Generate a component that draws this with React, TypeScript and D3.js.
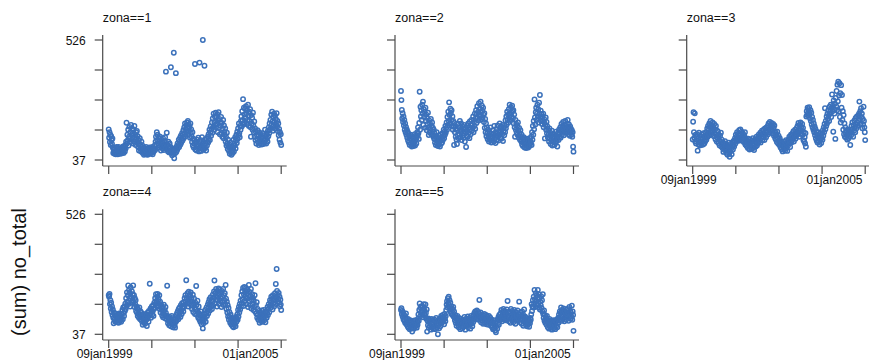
import React from "react";
import * as d3 from "d3";

// ---------- data (weekly, from 09jan1999, 417 weeks per zone) ----------
const zoneTitles = ["zona==1", "zona==2", "zona==3", "zona==4", "zona==5"];
const yLabelValues = [37, 526];
const xLabelTexts = ["09jan1999", "01jan2005"];
const yAxisTitle = "(sum) no_total";

const zona1 = [
  162, 128, 150, 110, 140, 98, 134, 118, 102, 125,
  88, 66, 80, 72, 62, 86, 70, 60, 78, 90,
  68, 84, 60, 76, 90, 64, 72, 82, 62, 74,
  86, 70, 64, 88, 76, 92, 66, 80, 90, 72,
  98, 84, 112, 189, 104, 140, 118, 160, 96, 132,
  172, 126, 150, 110, 180, 138, 120, 165, 146, 104,
  158, 128, 176, 112, 140, 98, 150, 126, 155, 108,
  134, 90, 118, 76, 104, 126, 84, 98, 72, 112,
  80, 96, 66, 74, 88, 58, 70, 84, 62, 78,
  90, 60, 72, 84, 58, 68, 80, 64, 88, 70,
  62, 78, 86, 66, 74, 90, 60, 82, 70, 76,
  84, 96, 78, 112, 132, 100, 150, 118, 140, 104,
  128, 96, 116, 88, 132, 104, 76, 120, 92, 110,
  84, 126, 100, 78, 114, 94, 130, 86, 397, 106,
  148, 80, 98, 72, 112, 84, 68, 104, 76, 90,
  415, 66, 80, 56, 72, 84, 60, 474, 44, 76,
  64, 82, 391, 70, 92, 78, 104, 86, 98, 120,
  90, 112, 128, 100, 136, 108, 124, 146, 116, 140,
  158, 126, 170, 142, 186, 134, 162, 178, 150, 190,
  168, 196, 140, 182, 154, 172, 128, 186, 148, 162,
  132, 110, 150, 96, 124, 88, 118, 104, 428, 80,
  112, 92, 76, 120, 100, 84, 128, 96, 72, 434,
  106, 84, 118, 74, 96, 130, 88, 526, 110, 80,
  98, 421, 120, 86, 104, 76, 124, 96, 112, 132,
  108, 142, 126, 160, 118, 150, 174, 136, 164, 190,
  148, 206, 172, 226, 160, 192, 214, 180, 230, 170,
  210, 186, 224, 150, 198, 232, 168, 204, 142, 190,
  176, 212, 146, 188, 132, 164, 200, 126, 178, 150,
  140, 166, 112, 130, 96, 148, 104, 82, 120, 92,
  74, 100, 62, 88, 108, 70, 58, 94, 78, 66,
  86, 120, 72, 104, 96, 130, 84, 116, 140, 106,
  152, 124, 166, 138, 186, 146, 130, 176, 160, 196,
  214, 174, 236, 200, 285, 182, 250, 222, 190, 246,
  208, 256, 228, 184, 240, 200, 262, 218, 176, 234,
  196, 244, 170, 132, 220, 186, 208, 160, 230, 178,
  150, 194, 132, 166, 118, 152, 104, 140, 124, 158,
  110, 136, 98, 150, 120, 104, 142, 116, 128, 100,
  130, 112, 146, 102, 124, 138, 108, 160, 118, 134,
  104, 142, 126, 112, 156, 134, 170, 146, 186, 160,
  200, 168, 222, 182, 234, 194, 156, 212, 176, 226,
  190, 218, 164, 204, 180, 228, 172, 196, 154, 186,
  138, 164, 120, 150, 108, 142, 98,
];

const zona2 = [
  318, 281, 241, 206, 228, 192, 214, 178, 200, 160,
  186, 150, 172, 140, 162, 128, 152, 116, 144, 108,
  132, 98, 124, 140, 104, 118, 92, 134, 100, 114,
  94, 126, 108, 142, 96, 118, 136, 104, 128, 150,
  138, 170, 146, 123, 188, 315, 160, 254, 214, 240,
  200, 262, 226, 275, 180, 244, 212, 234, 168, 250,
  196, 222, 158, 208, 184, 230, 170, 139, 198, 150,
  186, 164, 204, 142, 176, 190, 152, 168, 132, 160,
  124, 146, 108, 134, 98, 120, 150, 104, 128, 94,
  112, 136, 100, 124, 92, 140, 116, 104, 130, 108,
  146, 118, 134, 160, 126, 152, 140, 176, 148, 168,
  190, 160, 212, 178, 234, 196, 272, 220, 186, 246,
  228, 200, 240, 176, 214, 160, 196, 172, 98, 188,
  150, 176, 132, 164, 120, 102, 158, 138, 184, 126,
  170, 142, 196, 130, 160, 186, 118, 152, 174, 136,
  164, 128, 180, 144, 112, 168, 150, 90, 136, 176,
  154, 132, 186, 148, 170, 126, 194, 160, 142, 178,
  200, 156, 184, 168, 214, 150, 192, 176, 226, 164,
  206, 240, 188, 224, 256, 208, 234, 198, 268, 220,
  246, 214, 275, 230, 202, 258, 238, 210, 250, 222,
  192, 228, 168, 204, 150, 186, 134, 170, 146, 122,
  160, 130, 112, 150, 138, 118, 170, 126, 108, 144,
  132, 116, 158, 140, 112, 176, 124, 148, 106, 136,
  164, 120, 144, 178, 132, 116, 156, 140, 186, 128,
  150, 172, 124, 160, 142, 180, 114, 154, 168, 138,
  176, 150, 198, 166, 214, 182, 234, 200, 222, 190,
  244, 210, 262, 226, 200, 252, 232, 214, 258, 236,
  206, 240, 186, 222, 170, 132, 200, 160, 184, 148,
  176, 140, 190, 156, 128, 168, 146, 120, 158, 132,
  112, 140, 100, 126, 94, 118, 130, 104, 88, 122,
  98, 114, 86, 106, 124, 92, 108, 88, 118, 100,
  94, 126, 104, 112, 132, 98, 150, 120, 176, 140,
  196, 162, 284, 210, 182, 232, 250, 200, 226, 262,
  214, 244, 190, 270, 226, 302, 208, 238, 196, 224,
  184, 214, 196, 226, 170, 204, 188, 125, 180, 210,
  160, 192, 146, 174, 130, 158, 140, 112, 166, 124,
  148, 102, 136, 118, 156, 96, 128, 144, 110, 132,
  98, 140, 120, 106, 152, 114, 134, 92, 126, 148,
  118, 160, 132, 146, 170, 128, 156, 184, 140, 174,
  152, 192, 166, 138, 180, 158, 196, 148, 176, 162,
  186, 150, 200, 170, 142, 182, 160, 136, 174, 150,
  164, 140, 158, 132, 150, 91, 71,
];

const zona3 = [
  121, 193, 232, 150, 128, 227, 112, 140, 104, 132,
  118, 142, 75, 126, 100, 148, 112, 96, 136, 106,
  124, 98, 140, 110, 130, 100, 146, 116, 104, 134,
  112, 128, 150, 120, 142, 166, 132, 176, 146, 160,
  186, 138, 172, 196, 150, 180, 142, 164, 190, 154,
  172, 134, 184, 146, 160, 122, 176, 140, 112, 156,
  130, 152, 106, 140, 118, 96, 136, 112, 148, 92,
  120, 100, 86, 110, 70, 104, 92, 78, 114, 96,
  82, 66, 100, 88, 58, 94, 76, 108, 64, 50,
  90, 72, 102, 84, 60, 96, 110, 80, 98, 116,
  92, 112, 126, 104, 140, 118, 132, 150, 114, 128,
  144, 122, 158, 136, 116, 162, 140, 128, 152, 134,
  118, 146, 130, 110, 138, 122, 150, 100, 126, 112,
  94, 118, 104, 86, 124, 96, 110, 80, 102, 120,
  90, 108, 82, 116, 98, 126, 86, 104, 78, 112,
  100, 122, 92, 114, 132, 96, 118, 106, 128, 140,
  112, 134, 120, 148, 108, 140, 126, 156, 118, 146,
  132, 160, 144, 118, 166, 138, 152, 130, 170, 148,
  158, 176, 142, 186, 164, 150, 192, 170, 180, 156,
  188, 160, 176, 146, 184, 168, 136, 178, 154, 126,
  148, 120, 140, 110, 152, 128, 104, 136, 116, 98,
  126, 106, 88, 114, 96, 80, 108, 72, 100, 90,
  82, 112, 94, 76, 104, 118, 86, 98, 74, 110,
  96, 120, 104, 132, 112, 90, 126, 140, 108, 136,
  118, 146, 128, 154, 112, 140, 132, 160, 124, 148,
  136, 168, 150, 176, 142, 188, 158, 132, 180, 164,
  190, 146, 172, 156, 184, 140, 168, 118, 150, 112,
  130, 104, 146, 91, 214, 236, 220, 250, 228, 244,
  218, 252, 226, 206, 240, 196, 230, 182, 212, 170,
  200, 160, 186, 150, 174, 138, 164, 126, 152, 116,
  140, 108, 130, 150, 112, 124, 100, 144, 118, 134,
  106, 128, 146, 120, 158, 136, 170, 150, 184, 248,
  162, 196, 176, 214, 186, 226, 204, 240, 218, 196,
  254, 226, 240, 262, 212, 248, 304, 236, 258, 152,
  280, 244, 226, 266, 123, 290, 256, 318, 240, 344,
  276, 356, 234, 300, 350, 212, 309, 190, 342, 250,
  302, 200, 236, 160, 220, 142, 186, 132, 170, 150,
  128, 156, 138, 120, 162, 144, 126, 152, 134, 148,
  98, 160, 138, 176, 150, 190, 164, 132, 180, 156,
  198, 170, 150, 208, 184, 166, 214, 190, 176, 218,
  196, 226, 275, 204, 236, 184, 248, 212, 226, 166,
  204, 182, 254, 196, 170, 150, 118,
];

const zona4 = [
  196, 190, 201, 160, 176, 142, 166, 128, 150, 116,
  138, 104, 82, 126, 96, 114, 88, 120, 100, 92,
  110, 86, 118, 98, 84, 122, 104, 92, 114, 96,
  88, 120, 106, 136, 98, 146, 124, 112, 150, 132,
  162, 140, 184, 154, 208, 170, 196, 236, 160, 218,
  182, 204, 150, 228, 190, 166, 212, 176, 200, 236,
  170, 196, 148, 184, 160, 176, 132, 150, 126, 144,
  112, 138, 120, 104, 146, 116, 98, 130, 108, 124,
  90, 110, 76, 102, 120, 84, 96, 114, 80, 106,
  94, 118, 71, 100, 126, 108, 88, 132, 114, 243,
  120, 142, 104, 136, 150, 118, 130, 156, 112, 140,
  166, 144, 184, 160, 200, 172, 150, 190, 201, 164,
  180, 152, 196, 140, 170, 126, 160, 136, 150, 114,
  142, 106, 128, 158, 118, 136, 102, 148, 124, 110,
  98, 235, 112, 82, 104, 92, 74, 108, 86, 100,
  70, 94, 112, 78, 90, 66, 104, 84, 96, 74,
  64, 100, 88, 116, 94, 124, 106, 132, 98, 140,
  114, 146, 126, 108, 156, 134, 120, 164, 142, 150,
  130, 168, 148, 184, 158, 196, 170, 257, 186, 162,
  204, 176, 150, 211, 184, 164, 196, 172, 208, 154,
  186, 140, 170, 198, 128, 160, 182, 146, 120, 166,
  138, 234, 156, 116, 174, 128, 104, 150, 122, 96,
  114, 88, 130, 100, 78, 118, 92, 61, 108, 82,
  96, 120, 104, 136, 88, 124, 146, 112, 132, 158,
  122, 168, 144, 180, 134, 160, 188, 150, 176, 140,
  170, 198, 154, 186, 212, 256, 164, 204, 178, 222,
  190, 150, 214, 176, 200, 224, 160, 196, 218, 172,
  206, 184, 148, 214, 190, 168, 222, 156, 196, 176,
  204, 160, 238, 182, 140, 170, 126, 156, 110, 144,
  96, 128, 108, 84, 118, 96, 76, 104, 88, 70,
  92, 66, 84, 102, 78, 96, 70, 108, 88, 100,
  118, 96, 136, 110, 148, 126, 160, 138, 174, 150,
  196, 164, 212, 180, 226, 152, 200, 230, 172, 214,
  190, 226, 160, 204, 182, 218, 148, 196, 238, 172,
  210, 156, 190, 222, 142, 178, 200, 160, 186, 136,
  174, 148, 196, 130, 245, 156, 122, 168, 104, 140,
  118, 96, 132, 108, 84, 126, 100, 116, 90, 134,
  110, 88, 122, 102, 136, 94, 116, 128, 86, 112,
  130, 104, 124, 148, 116, 140, 160, 126, 152, 176,
  144, 168, 190, 156, 180, 138, 196, 164, 186, 150,
  176, 204, 160, 242, 188, 303, 214, 170, 196, 180,
  206, 166, 190, 150, 178, 158, 136,
];

const zona5 = [
  136, 143, 120, 132, 110, 126, 98, 118, 92, 112,
  84, 104, 122, 78, 96, 88, 70, 100, 64, 90,
  76, 58, 94, 70, 84, 62, 90, 48, 80, 66,
  92, 60, 78, 86, 68, 94, 72, 82, 64, 89,
  76, 100, 118, 92, 136, 163, 110, 146, 126, 152,
  130, 118, 150, 106, 140, 160, 120, 134, 112, 159,
  124, 100, 138, 48, 92, 74, 102, 64, 86, 96,
  70, 90, 56, 82, 100, 66, 78, 94, 60, 84,
  98, 72, 58, 88, 76, 104, 64, 90, 80, 37,
  74, 96, 62, 86, 102, 70, 94, 112, 82, 104,
  88, 116, 94, 108, 78, 120, 100, 90, 112, 136,
  158, 172, 146, 184, 164, 190, 150, 176, 140, 166,
  128, 152, 120, 142, 116, 136, 148, 110, 130, 104,
  94, 116, 84, 106, 72, 98, 112, 80, 92, 66,
  104, 78, 90, 58, 86, 100, 70, 94, 62, 82,
  96, 68, 88, 108, 74, 56, 92, 80, 102, 72,
  90, 110, 66, 84, 98, 76, 104, 60, 88, 112,
  80, 94, 70, 102, 86, 116, 96, 124, 104, 130,
  110, 122, 98, 134, 116, 104, 128, 96, 120, 177,
  112, 100, 126, 86, 108, 118, 92, 104, 80, 114,
  98, 120, 84, 106, 92, 116, 78, 102, 110, 88,
  100, 76, 112, 94, 82, 106, 90, 72, 98, 84,
  66, 86, 58, 78, 94, 62, 74, 52, 84, 45,
  70, 90, 60, 98, 82, 108, 76, 116, 94, 104,
  122, 96, 136, 110, 90, 128, 104, 140, 116, 98,
  132, 108, 124, 94, 118, 138, 100, 173, 112, 126,
  90, 130, 106, 120, 84, 140, 98, 116, 132, 104,
  124, 86, 110, 136, 96, 118, 80, 128, 104, 114,
  92, 134, 108, 120, 98, 170, 116, 86, 126, 102,
  112, 80, 130, 94, 120, 72, 106, 138, 88, 110,
  96, 76, 104, 84, 70, 92, 78, 100, 86, 68,
  90, 82, 104, 96, 118, 160, 132, 150, 176, 146,
  190, 162, 218, 180, 148, 204, 172, 196, 158, 186,
  218, 164, 200, 146, 182, 138, 170, 156, 192, 144,
  176, 130, 200, 120, 104, 134, 92, 116, 84, 108,
  96, 76, 112, 88, 66, 94, 82, 60, 100, 72,
  86, 64, 92, 78, 56, 88, 70, 94, 62, 80,
  74, 92, 58, 86, 70, 96, 80, 66, 98, 104,
  84, 118, 96, 130, 106, 124, 146, 92, 136, 112,
  128, 100, 142, 116, 90, 132, 108, 122, 96, 138,
  114, 104, 140, 126, 92, 118, 148, 110, 132, 100,
  124, 108, 154, 96, 130, 116, 51,
];

const zoneSeries = [zona1, zona2, zona3, zona4, zona5];

// ---------- layout ----------
const W = 869;
const H = 360;
const FONT = "'Liberation Sans', Arial, Helvetica, sans-serif";
const MARKER = "#3b71bb";
const AXIS = "#4a4a4a";
const colLeft = [102.7, 395, 686.7];
const rowTop = [40, 214.3];
const rowBottom = [160, 334.3];
const rowXAxis = [166, 340];

const DAY = 864e5;
const startDate = new Date(Date.UTC(1999, 0, 9));
const nWeeks = 416;
const endDate = new Date(startDate.getTime() + nWeeks * 7 * DAY);
const xTicks = d3.range(5).map((k) => new Date(startDate.getTime() + k * 104 * 7 * DAY));
const yTicks = d3.range(5).map((k) => 37 + (k * (526 - 37)) / 4);

function Panel({ idx }: { idx: number }) {
  const col = idx % 3;
  const row = Math.floor(idx / 3);
  const left = colLeft[col];
  const xAxisY = rowXAxis[row];
  const x = d3.scaleUtc().domain([startDate, endDate]).range([left + 6, left + 178.5]);
  const y = d3.scaleLinear().domain([37, 526]).range([rowBottom[row], rowTop[row]]);
  const data = zoneSeries[idx];
  const showX = idx >= 2;
  const showY = col === 0;
  const labelTicks = [
    { t: xTicks[0], text: xLabelTexts[0], dx: -4 },
    { t: xTicks[3], text: xLabelTexts[1], dx: 12.4 },
  ];
  return (
    <g>
      <text x={left} y={rowTop[row] - 18} fontSize={12.5} fill="#111" fontFamily={FONT}>
        {zoneTitles[idx]}
      </text>
      <line x1={left} x2={left} y1={rowTop[row] - 5} y2={xAxisY} stroke={AXIS} strokeWidth={1.2} />
      {yTicks.map((v, i) => (
        <line key={i} x1={left - 8} x2={left} y1={y(v)} y2={y(v)} stroke={AXIS} strokeWidth={1.2} />
      ))}
      {showY &&
        yLabelValues.map((v) => (
          <text key={v} x={left - 17} y={y(v) + 4.5} textAnchor="end" fontSize={12} fill="#111" fontFamily={FONT}>
            {v}
          </text>
        ))}
      <line x1={left} x2={left + 184} y1={xAxisY} y2={xAxisY} stroke={AXIS} strokeWidth={1.2} />
      {xTicks.map((t, i) => (
        <line key={i} x1={x(t)} x2={x(t)} y1={xAxisY} y2={xAxisY + 8} stroke={AXIS} strokeWidth={1.2} />
      ))}
      {showX &&
        labelTicks.map((l, i) => (
          <text key={i} x={x(l.t) + l.dx} y={xAxisY + 17.5} textAnchor="middle" fontSize={12} fill="#111" fontFamily={FONT}>
            {l.text}
          </text>
        ))}
      {data.map((v, i) => (
        <circle
          key={i}
          cx={x(new Date(startDate.getTime() + i * 7 * DAY))}
          cy={y(v)}
          r={2.2}
          fill="none"
          stroke={MARKER}
          strokeWidth={1.5}
        />
      ))}
    </g>
  );
}

export default function App() {
  return (
    <svg
      width={W}
      height={H}
      viewBox={`0 0 ${W} ${H}`}
      style={{ position: "absolute", left: 0, top: 0, background: "#fff" }}
    >
      <rect x={0} y={0} width={W} height={H} fill="#fff" />
      {zoneSeries.map((_, i) => (
        <Panel key={i} idx={i} />
      ))}
      <text
        transform="translate(26,272) rotate(-90)"
        textAnchor="middle"
        fontSize={20}
        fill="#111"
        fontFamily={FONT}
      >
        {yAxisTitle}
      </text>
    </svg>
  );
}
